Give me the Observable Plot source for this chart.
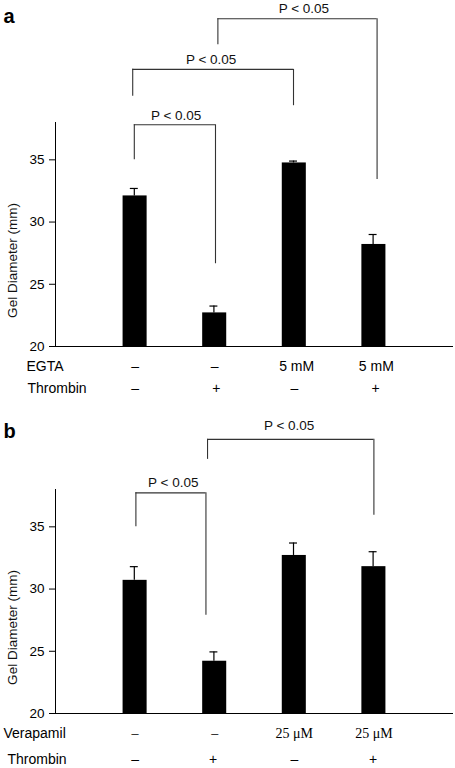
<!DOCTYPE html>
<html>
<head>
<meta charset="utf-8">
<script src="https://cdn.jsdelivr.net/npm/d3@7"></script>
<script src="https://cdn.jsdelivr.net/npm/@observablehq/plot@0.6"></script>
<style>
  html, body { margin: 0; padding: 0; background: #fff; }
  #chart { width: 455px; }
  #chart svg { display: block; }
</style>
</head>
<body>
<div id="chart"></div>
<script>
// ---------- data ----------
const groupIndex = [0, 1, 2, 3];
const yTicks = [20, 25, 30, 35];
const yLabel = "Gel Diameter (mm)";
const pText = "P < 0.05";

// Panel a
const egtaLabels = ["–", "–", "5 mM", "5 mM"];
const thrombinLabelsA = ["–", "+", "–", "+"];
const meansA = [32.1, 22.7, 34.75, 28.2];
const errTopA = [32.7, 23.25, 34.9, 29.0];
const brA_left = [-0.01, -0.03, 1.04];
const brA_right = [1.01, 1.99, 3.04];
const brA_top = [37.82, 42.27, 46.34];
const brA_leftEnd = [35.0, 40.1, 44.25];
const brA_rightEnd = [26.65, 39.35, 33.42];
const brA_labelX = [0.515, 0.955, 2.12];
const brA_labelY = [38.57, 43.07, 47.17];

// Panel b
const verapamilLabels = ["–", "–", "25 μM", "25 μM"];
const thrombinLabelsB = ["–", "+", "–", "+"];
const meansB = [30.7, 24.2, 32.7, 31.8];
const errTopB = [31.8, 24.95, 33.7, 33.0];
const brB_left = [0.01, 0.91];
const brB_right = [0.89, 3.0];
const brB_top = [37.73, 42.03];
const brB_leftEnd = [35.0, 40.42];
const brB_rightEnd = [27.9, 35.94];
const brB_labelX = [0.48, 1.935];
const brB_labelY = [38.54, 43.1];

// ---------- drawing ----------
const SANS = "'Liberation Sans', Arial, Helvetica, sans-serif";
const SERIF = "'Liberation Serif', 'Times New Roman', serif";

function bracketMarks(left, right, top, leftEnd, rightEnd, labelX, labelY) {
  const b = d3.range(left.length);
  const stroke = "#333";
  return [
    Plot.ruleX(b, {x: i => left[i], y1: i => leftEnd[i], y2: i => top[i], stroke, strokeWidth: 1.1}),
    Plot.ruleX(b, {x: i => right[i], y1: i => rightEnd[i], y2: i => top[i], stroke, strokeWidth: 1.1}),
    Plot.ruleY(b, {y: i => top[i], x1: i => left[i], x2: i => right[i], stroke, strokeWidth: 1.1}),
    Plot.text(b, {x: i => labelX[i], y: i => labelY[i], text: () => pText, fontSize: 13.5, fill: "#111"})
  ];
}

function panel(opts) {
  const {height, marginTop, marginBottom, means, errTop, brackets, letter, rows} = opts;
  return Plot.plot({
    width: 455,
    height,
    marginLeft: 55,
    marginRight: 2,
    marginTop,
    marginBottom,
    style: {fontFamily: SANS, fontSize: "13.5px", color: "#000", background: "#fff", overflow: "visible"},
    x: {domain: [-1, 4], axis: null},
    y: {domain: [20, 38], axis: null},
    marks: [
      // bars
      Plot.rect(groupIndex, {x1: i => i - 0.151, x2: i => i + 0.151, y1: 20, y2: i => means[i], fill: "#000"}),
      // error bars
      Plot.ruleX(groupIndex, {x: i => i - 0.01, y1: i => means[i], y2: i => errTop[i], stroke: "#000", strokeWidth: 1.2}),
      Plot.ruleY(groupIndex, {y: i => errTop[i], x1: i => i - 0.06, x2: i => i + 0.04, stroke: "#000", strokeWidth: 1.2}),
      // axes lines
      Plot.ruleX([-1], {y1: 20, y2: 38, stroke: "#000", strokeWidth: 1}),
      Plot.ruleY([20], {x1: -1, x2: 4, stroke: "#000", strokeWidth: 1}),
      Plot.axisY({ticks: yTicks, tickSize: 6, tickPadding: 5, label: null, fontSize: 13.5}),
      Plot.text([yLabel], {frameAnchor: "left", textAnchor: "middle", dx: -43, dy: 26, rotate: -90, fontSize: 13.5, fill: "#111"}),
      // panel letter
      Plot.text([letter], {frameAnchor: "top-left", dx: letter.dx, dy: letter.dy, text: () => letter.t, fontSize: 20, fontWeight: "bold", textAnchor: "start"}),
      // treatment rows
      ...rows.flatMap(r => [
        Plot.text([r.name], {x: -1, y: 20, dx: r.nameDx, dy: r.dy, textAnchor: "start", fontSize: 14, letterSpacing: "0.8px"}),
        Plot.text(groupIndex, {x: i => i + (r.shift ? r.shift[i] : 0), y: 20, dy: r.dy, text: i => r.values[i], fontSize: 14, fontFamily: r.font || SANS, letterSpacing: r.spacing || "0.5px"})
      ]),
      ...brackets
    ]
  });
}

const chartA = panel({
  height: 396, marginTop: 122, marginBottom: 50,
  means: meansA, errTop: errTopA,
  letter: {t: "a", dx: -52, dy: -114},
  brackets: bracketMarks(brA_left, brA_right, brA_top, brA_leftEnd, brA_rightEnd, brA_labelX, brA_labelY),
  rows: [
    {name: "EGTA", nameDx: -29, dy: 20, values: egtaLabels, shift: [0, 0, 0.03, 0.03]},
    {name: "Thrombin", nameDx: -28, dy: 42, values: thrombinLabelsA, shift: [0, 0.02, 0, 0.02]}
  ]
});

const chartB = panel({
  height: 372, marginTop: 93, marginBottom: 55,
  means: meansB, errTop: errTopB,
  letter: {t: "b", dx: -52, dy: -66},
  brackets: bracketMarks(brB_left, brB_right, brB_top, brB_leftEnd, brB_rightEnd, brB_labelX, brB_labelY),
  rows: [
    {name: "Verapamil", nameDx: -52, dy: 20, values: verapamilLabels, font: SERIF, spacing: "0.8px"},
    {name: "Thrombin", nameDx: -48, dy: 46, values: thrombinLabelsB, shift: [0, -0.02, 0, -0.01]}
  ]
});

document.getElementById("chart").append(chartA, chartB);
</script>
</body>
</html>
